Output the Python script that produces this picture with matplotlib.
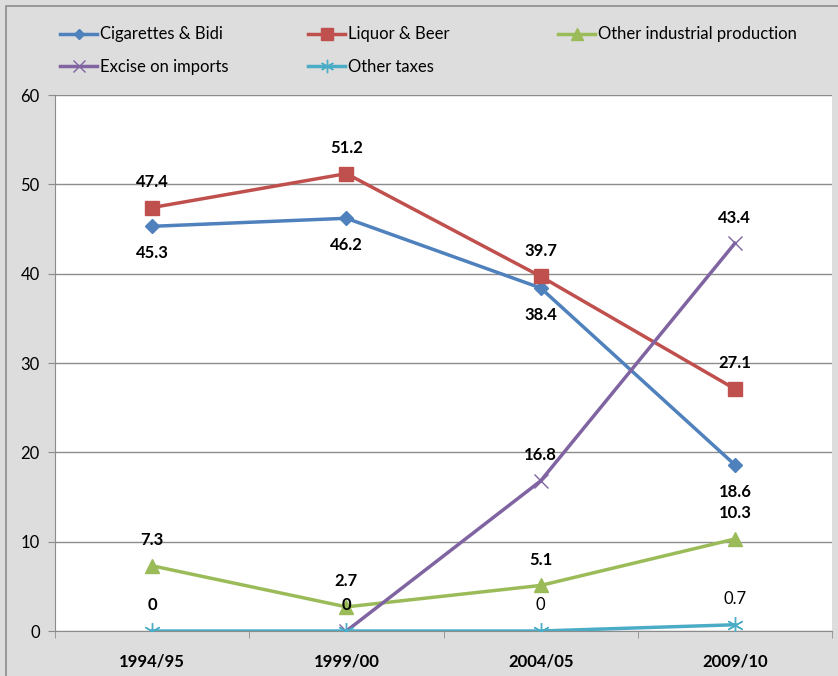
import matplotlib as mpl
mpl.use('agg')
import matplotlib.pyplot as plt
import matplotlib.patches as mpatches
import numpy as np

plt.rcParams['font.family'] = ['Lato', 'DejaVu Sans']

years = ["1994/95", "1999/00", "2004/05", "2009/10"]
cig = [45.3, 46.2, 38.4, 18.6]
liquor = [47.4, 51.2, 39.7, 27.1]
other_ind = [7.3, 2.7, 5.1, 10.3]
excise_imp = [np.nan, 0, 16.8, 43.4]
other_tax = [0, 0, 0, 0.7]

x = np.arange(len(years))

fig = plt.figure(figsize=(8.38, 6.76), dpi=100)
fig.patch.set_facecolor('#dddddd')
fig.patches.append(mpatches.Rectangle((6/838, -0.1), 1.2, 1 - 6/676 + 0.1, transform=fig.transFigure,
                                      fill=False, edgecolor='#8c8c8c', linewidth=1.2, zorder=0))
ax = fig.add_axes([55/838, 1 - 631/676, 777/838, 536/676])
ax.set_facecolor('white')

h_cig, = ax.plot(x, cig, color='#4f81bd', lw=2.5, marker='D', ms=7, label='Cigarettes & Bidi', zorder=5)
h_liq, = ax.plot(x, liquor, color='#c0504d', lw=2.5, marker='s', ms=10, label='Liquor & Beer', zorder=5)
h_ind, = ax.plot(x, other_ind, color='#9bbb59', lw=2.5, marker='^', ms=10, label='Other industrial production', zorder=5)
h_exc, = ax.plot(x, excise_imp, color='#8064a2', lw=2.5, marker='x', ms=10, mew=1, label='Excise on imports', zorder=5)
h_oth, = ax.plot(x, other_tax, color='#4bacc6', lw=2.5, marker=(6, 2, 0), ms=12, mew=1, label='Other taxes', zorder=5)

fs = 12
lab = dict(ha='center', va='center', fontsize=fs, fontweight='bold', zorder=10)
up = 18.5
for i, v in enumerate(cig):
    ax.annotate(f"{v}", (x[i], v), xytext=(0, -19.5), textcoords='offset points', **lab)
for i, v in enumerate(liquor):
    ax.annotate(f"{v}", (x[i], v), xytext=(0, up), textcoords='offset points', **lab)
for i, v in enumerate(other_ind):
    ax.annotate(f"{v}", (x[i], v), xytext=(0, up), textcoords='offset points', **lab)
for i, v in enumerate(excise_imp):
    if not np.isnan(v):
        ax.annotate(f"{v:g}", (x[i], v), xytext=(0, up), textcoords='offset points', **lab)
ax.annotate("0", (x[0], 0), xytext=(0, up), textcoords='offset points', **lab)
for i in (2, 3):
    ax.annotate(f"{other_tax[i]:g}", (x[i], other_tax[i]), xytext=(0, up), textcoords='offset points',
                ha='center', va='center', fontsize=fs, zorder=10)

ax.set_xlim(-0.5, 3.5)
ax.set_ylim(0, 60)
ax.set_yticks(np.arange(0, 61, 10))
ax.set_xticks(x)
ax.set_xticklabels(years, fontweight='bold', fontsize=fs)
ax.set_xticks(np.arange(-0.5, 3.6, 1), minor=True)
ax.tick_params(axis='x', which='major', length=0, pad=16)
ax.tick_params(axis='x', which='minor', length=5, color='#8c8c8c')
ax.tick_params(axis='y', length=5, color='#8c8c8c', labelsize=fs, pad=6)
ax.yaxis.grid(True, color='#8c8c8c', lw=1)
ax.set_axisbelow(True)
for s in ['top', 'right']:
    ax.spines[s].set_visible(False)
for s in ['left', 'bottom']:
    ax.spines[s].set_color('#8c8c8c')

# legend: three columns placed like the Excel legend
cols = [([h_cig, h_exc], 52), ([h_liq, h_oth], 300), ([h_ind], 550)]
for hs, px in cols:
    fig.legend(hs, [h.get_label() for h in hs], loc='upper left',
               bbox_to_anchor=(px/838, 1 - 18/676), frameon=False, fontsize=fs,
               handlelength=2.2, handletextpad=0.15, labelspacing=1.0,
               borderpad=0, markerscale=0.8)

plt.savefig("out.png", dpi=100, facecolor=fig.get_facecolor())
